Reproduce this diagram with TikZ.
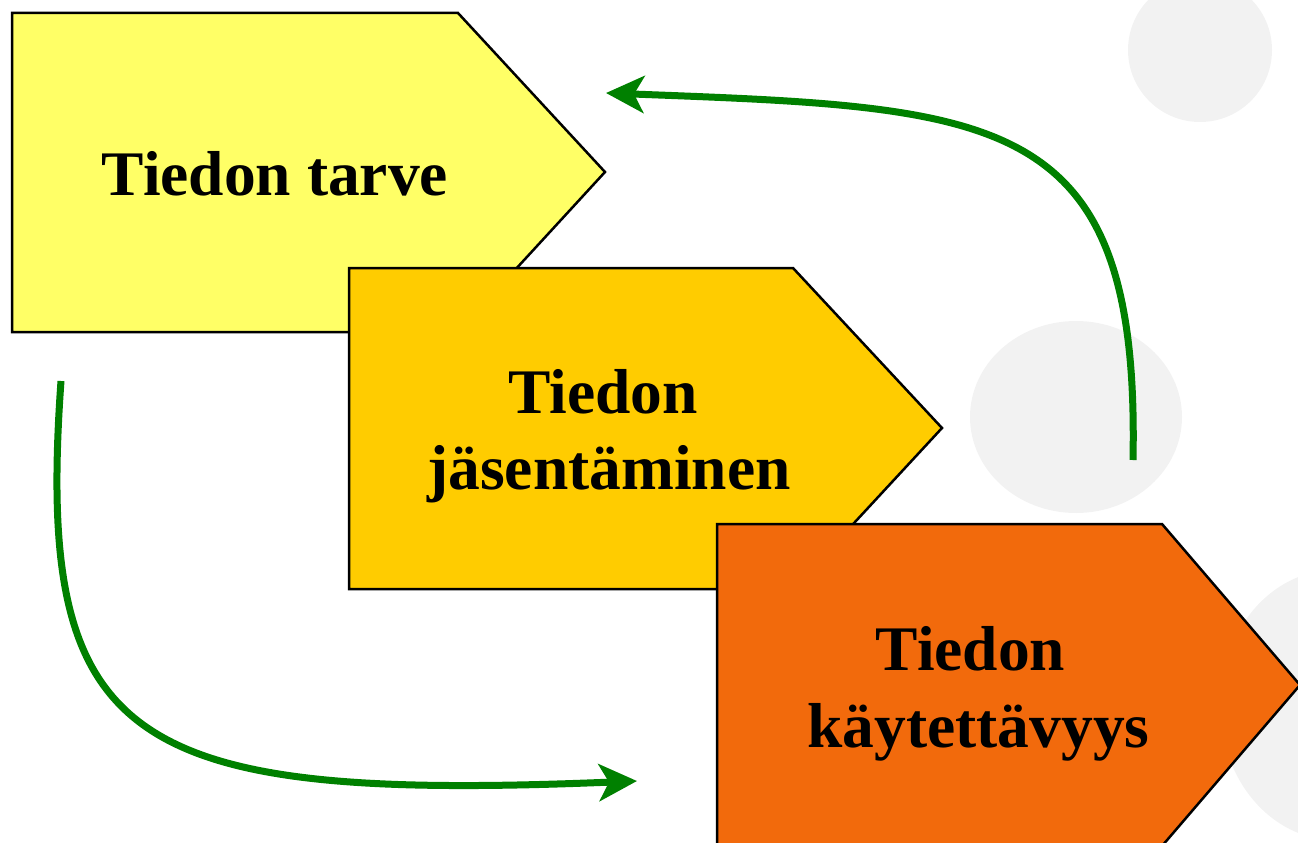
\documentclass[tikz,border=0pt]{standalone}
\usepackage{fontspec}
\setmainfont{Liberation Serif}
\usetikzlibrary{arrows.meta}
\definecolor{needyellow}{HTML}{FFFF66}
\definecolor{structgold}{HTML}{FFCC00}
\definecolor{useorange}{HTML}{F26A0C}
\definecolor{dotgray}{HTML}{F2F2F2}
\definecolor{flowgreen}{HTML}{008000}
\tikzset{
  stage/.style={draw=black, line width=2.5pt, line join=miter},
  stagelabel/.style={font=\fontsize{63.5}{76}\selectfont\bfseries, inner sep=0pt, anchor=base},
  flow/.style={draw=flowgreen, line width=7pt, -{Stealth[length=38pt,width=37pt,inset=10pt]}},
  dot/.style={fill=dotgray}
}
\begin{document}
\begin{tikzpicture}[x=1pt,y=-1pt]
\useasboundingbox (0,0) rectangle (1298,843);
\clip (0,0) rectangle (1298,843);

% pale background discs
\fill[dot] (1200,50) circle[radius=72pt];
\fill[dot] (1076,417) ellipse[x radius=106pt, y radius=96pt];
\fill[dot] (1335,705) ellipse[x radius=115pt, y radius=135pt];

% the three stages
\path[stage, fill=needyellow] (12,13) -- (458,13) -- (605,172) -- (458,332) -- (12,332) -- cycle;
\path[stage, fill=structgold] (349,268) -- (793,268) -- (942,428) -- (793,589) -- (349,589) -- cycle;
\path[stage, fill=useorange] (717,524) -- (1162,524) -- (1300,685) -- (1162,846) -- (717,846) -- cycle;

% stage labels
\node[stagelabel] (need) at (275,195) {Tiedon tarve};
\node[stagelabel] (structA) at (603,413) {Tiedon};
\node[stagelabel] (structB) at (609,489) {jäsentäminen};
\node[stagelabel] (useA) at (970.5,670) {Tiedon};
\node[stagelabel] (useB) at (978.5,747) {käytettävyys};

% feedback loops
\coordinate (backStart) at (1133,460);
\coordinate (backEnd) at (606,93);
\coordinate (fwdStart) at (61,381);
\coordinate (fwdEnd) at (637,781);
\draw[flow] (backStart) .. controls (1140,110) and (1000,108) .. (backEnd);
\draw[flow] (fwdStart) .. controls (35,745) and (125,802) .. (fwdEnd);
\end{tikzpicture}
\end{document}
